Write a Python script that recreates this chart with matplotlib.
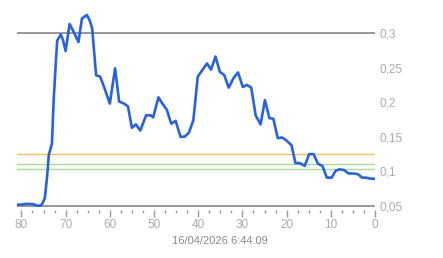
import matplotlib
matplotlib.use("Agg")
import matplotlib.pyplot as plt
from matplotlib.ticker import MultipleLocator, FuncFormatter

# age of each sample (x axis runs from 80 down to 0) and its value
ages = [80.9, 80, 79, 78, 77.2, 76.5, 75.7, 75.3, 74.7, 74.2, 73.8, 73.1, 72.7, 72.2, 71.9,
        71.1, 70.6, 70, 69.1, 68.2, 67.1, 66.3, 65.2, 64.6, 64, 63.1, 62.2, 61.3, 60,
        58.8, 57.9, 56.8, 55.9, 55, 54.1, 53.1, 51.8, 50.7, 50.2, 49, 48.1, 47.1, 46.1,
        45.1, 44, 43.1, 42.1, 41.1, 40.1, 39, 38, 37.1, 36.1, 35.1, 34.1, 33.1, 32, 31,
        29.9, 29, 28, 27, 25.9, 24.9, 23.9, 23, 22, 21, 20.1, 18.9, 18, 17, 15.9, 14.9,
        13.9, 12.9, 11.9, 10.9, 9.8, 8.9, 8, 7, 6, 4.9, 3.9, 2.9, 2.1, 1, 0]
values = [0.052, 0.052, 0.053, 0.053, 0.0525, 0.0505, 0.0505, 0.053, 0.0616, 0.092, 0.124,
          0.140, 0.203, 0.259, 0.289, 0.298, 0.290, 0.274, 0.313, 0.302, 0.287, 0.321,
          0.326, 0.319, 0.307, 0.239, 0.237, 0.222, 0.198, 0.249, 0.201, 0.198, 0.194,
          0.163, 0.168, 0.159, 0.181, 0.181, 0.178, 0.207, 0.198, 0.189, 0.169, 0.173,
          0.150, 0.150, 0.156, 0.174, 0.237, 0.247, 0.256, 0.247, 0.266, 0.244, 0.239,
          0.221, 0.235, 0.243, 0.222, 0.225, 0.221, 0.181, 0.168, 0.203, 0.177, 0.176,
          0.148, 0.149, 0.145, 0.138, 0.112, 0.112, 0.108, 0.125, 0.125, 0.111, 0.108,
          0.091, 0.091, 0.101, 0.103, 0.102, 0.097, 0.097, 0.096, 0.091, 0.091, 0.0895,
          0.0895]

# reference levels
level_dark = [0.05, 0.3]
level_orange = 0.125
level_green = [0.11, 0.103]
date_label = "16/04/2026 6:44:09"

plt.rcParams['font.family'] = ['Liberation Sans', 'DejaVu Sans']

fig = plt.figure(figsize=(4.43, 2.58), dpi=100)
ax = fig.add_axes([17/443, 48/258, 358/443, 201/258])

ax.set_xlim(81, 0)
ax.set_ylim(0.05 - 4/692, 0.05 + (210 - 9 - 4)/692)

for lv in level_dark:
    ax.axhline(lv, color="#7a7a7a", lw=1.1, zorder=1)
ax.axhline(level_orange, color="#f0c060", lw=1, zorder=1)
for lv in level_green:
    ax.axhline(lv, color="#a8dc98", lw=1, zorder=1)

ax.plot(ages, values, color="#2862dc", lw=1.9, zorder=3, solid_joinstyle="round")

for s in ax.spines.values():
    s.set_visible(False)

ax.xaxis.set_major_locator(MultipleLocator(10))
ax.xaxis.set_minor_locator(MultipleLocator(2.5))
ax.tick_params(axis="x", which="major", length=5, width=1, color="#999999",
               labelcolor="#aaaaaa", labelsize=8.5, pad=1.5)
ax.tick_params(axis="x", which="minor", length=2, width=1, color="#999999")

ax.yaxis.tick_right()
ax.set_yticks([0.05, 0.1, 0.15, 0.2, 0.25, 0.3])
ax.yaxis.set_major_formatter(FuncFormatter(lambda v, p: ("%g" % round(v, 2)).replace(".", ",")))
ax.tick_params(axis="y", length=0, labelcolor="#aaaaaa", labelsize=8.5, pad=3.5)

fig.text(220/443, 1 - 241/258, date_label, ha="center", va="center", color="#8a8a8a", fontsize=8)

fig.savefig("out.png", dpi=100)
